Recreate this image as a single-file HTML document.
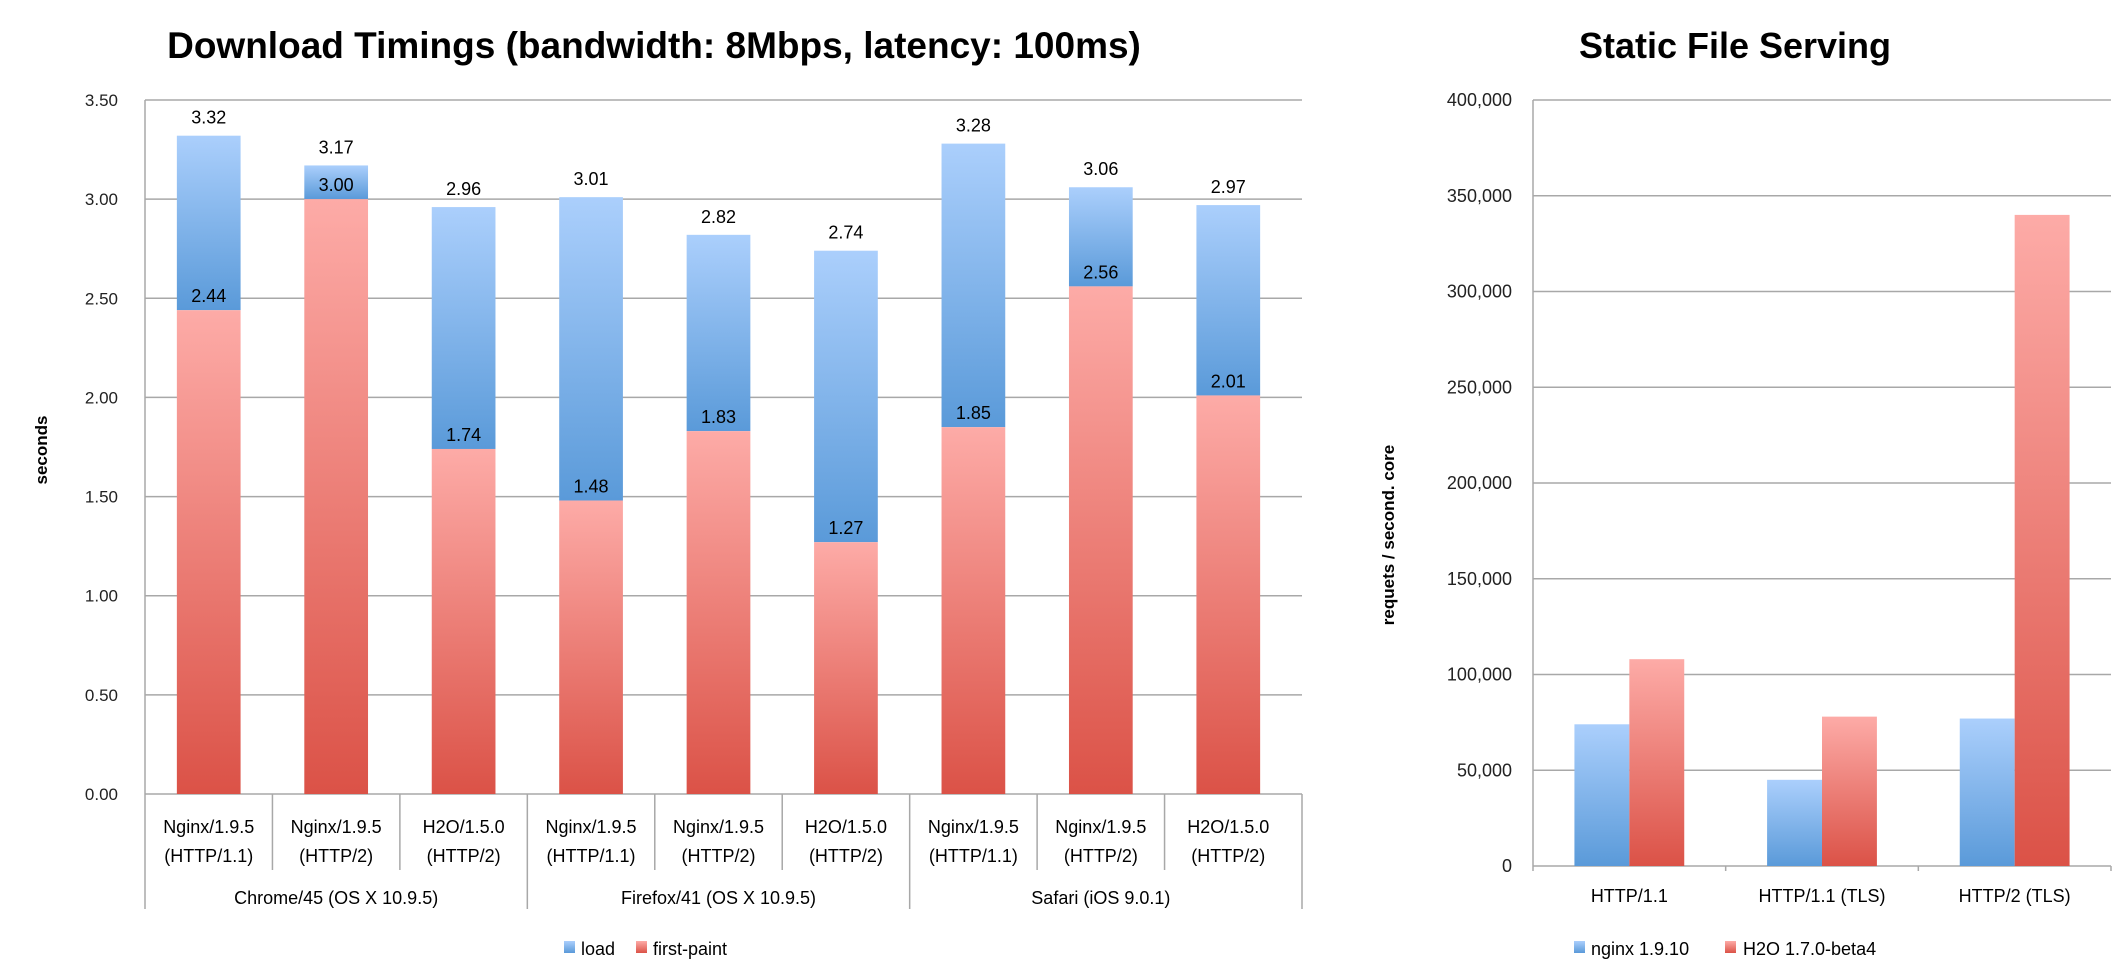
<!DOCTYPE html>
<html><head><meta charset="utf-8"><style>
html,body{margin:0;padding:0;background:#fff;}
svg{display:block;font-family:"Liberation Sans",sans-serif;}
</style></head><body>
<svg id="svg" width="2122" height="980" viewBox="0 0 2122 980">
<defs>
<linearGradient id="gb" x1="0" y1="0" x2="0" y2="1"><stop offset="0" stop-color="#abcffc"/><stop offset="1" stop-color="#5a9ad9"/></linearGradient>
<linearGradient id="gr" x1="0" y1="0" x2="0" y2="1"><stop offset="0" stop-color="#fdaba7"/><stop offset="1" stop-color="#db5247"/></linearGradient>
</defs>
<text x="654" y="58" text-anchor="middle" font-size="37" font-weight="bold" fill="#000">Download Timings (bandwidth: 8Mbps, latency: 100ms)</text>
<text x="1735" y="58" text-anchor="middle" font-size="36" font-weight="bold" fill="#000">Static File Serving</text>
<g id="left"></g>
<g id="right"></g>
</svg>
<script>
const leftCats1=["Nginx/1.9.5","Nginx/1.9.5","H2O/1.5.0","Nginx/1.9.5","Nginx/1.9.5","H2O/1.5.0","Nginx/1.9.5","Nginx/1.9.5","H2O/1.5.0"];
const leftCats2=["(HTTP/1.1)","(HTTP/2)","(HTTP/2)","(HTTP/1.1)","(HTTP/2)","(HTTP/2)","(HTTP/1.1)","(HTTP/2)","(HTTP/2)"];
const leftGroups=["Chrome/45 (OS X 10.9.5)","Firefox/41 (OS X 10.9.5)","Safari (iOS 9.0.1)"];
const loadVals=[3.32,3.17,2.96,3.01,2.82,2.74,3.28,3.06,2.97];
const paintVals=[2.44,3.00,1.74,1.48,1.83,1.27,1.85,2.56,2.01];
const leftTicks=[0,0.5,1,1.5,2,2.5,3,3.5];
const rightCats=["HTTP/1.1","HTTP/1.1 (TLS)","HTTP/2 (TLS)"];
const nginxVals=[74000,45000,77000];
const h2oVals=[108000,78000,340000];
const rightTicks=[0,50000,100000,150000,200000,250000,300000,350000,400000];

const NS="http://www.w3.org/2000/svg";
function mk(parent,tag,attrs,text){const e=document.createElementNS(NS,tag);for(const k in attrs)e.setAttribute(k,attrs[k]);if(text!==undefined)e.textContent=text;parent.appendChild(e);return e;}

// LEFT
const L=document.getElementById('left');
const lx0=145,lx1=1292,ly0=794,ly1=100,lmax=3.5;
const ly=v=>ly0-(v/lmax)*(ly0-ly1);
const lcw=(lx1-lx0)/loadVals.length;
leftTicks.forEach(t=>{
  const g=mk(L,'line',{x1:lx0,x2:lx1+10,y1:ly(t),y2:ly(t),stroke:'#a8a8a8','stroke-width':1.5});
  
  
  const tl=mk(L,'text',{x:118,y:ly(t)+6,'text-anchor':'end','font-size':17,fill:'#222'},t.toFixed(2));
  
  
});
mk(L,'line',{x1:lx0,x2:lx0,y1:ly1,y2:909,stroke:'#a8a8a8','stroke-width':1.5});
const yt=mk(L,'text',{x:0,y:0,transform:'translate(47 450) rotate(-90)','text-anchor':'middle','font-size':17,'font-weight':'bold'},'seconds');


loadVals.forEach((v,i)=>{
  const cx=lx0+lcw*(i+0.5),bw=lcw*0.5;
  const b=mk(L,'rect',{x:cx-bw/2,y:ly(v),width:bw,height:ly(paintVals[i])-ly(v),fill:'url(#gb)'});
  
  
  const r=mk(L,'rect',{x:cx-bw/2,y:ly(paintVals[i]),width:bw,height:ly0-ly(paintVals[i]),fill:'url(#gr)'});
  
  
  const t1=mk(L,'text',{x:cx,y:ly(v)-12,'text-anchor':'middle','font-size':18},v.toFixed(2));
  
  
  const t2=mk(L,'text',{x:cx,y:ly(paintVals[i])-8,'text-anchor':'middle','font-size':18},paintVals[i].toFixed(2));
  
  
  const c1=mk(L,'text',{x:cx,y:833,'text-anchor':'middle','font-size':18},leftCats1[i]);
  
  
  const c2=mk(L,'text',{x:cx,y:862,'text-anchor':'middle','font-size':18},leftCats2[i]);
  
  
  if(i>0){mk(L,'line',{x1:lx0+lcw*i,x2:lx0+lcw*i,y1:ly0,y2:(i%3===0)?909:870,stroke:'#a8a8a8','stroke-width':1.5});}
});
mk(L,'line',{x1:lx1+10,x2:lx1+10,y1:ly0,y2:909,stroke:'#a8a8a8','stroke-width':1.5});
leftGroups.forEach((g,i)=>{
  const t=mk(L,'text',{x:lx0+lcw*(3*i+1.5),y:904,'text-anchor':'middle','font-size':18},g);
  
  
});
mk(L,'rect',{x:564,y:941,width:11,height:12,fill:'url(#gb)'});
const lg1=mk(L,'text',{x:581,y:955,'font-size':18},'load');


mk(L,'rect',{x:636,y:941,width:11,height:12,fill:'url(#gr)'});
const lg2=mk(L,'text',{x:653,y:955,'font-size':18},'first-paint');



// RIGHT
const R=document.getElementById('right');
const rx0=1533,rx1=2111,ry0=866,ry1=100,rmax=400000;
const ry=v=>ry0-(v/rmax)*(ry0-ry1);
const rcw=(rx1-rx0)/rightCats.length;
rightTicks.forEach(t=>{
  const g=mk(R,'line',{x1:rx0,x2:rx1,y1:ry(t),y2:ry(t),stroke:'#a8a8a8','stroke-width':1.5});
  
  
  const tl=mk(R,'text',{x:1512,y:ry(t)+6,'text-anchor':'end','font-size':18,fill:'#222'},t.toLocaleString('en-US'));
  
  
});
mk(R,'line',{x1:rx0,x2:rx0,y1:ry1,y2:ry0+5,stroke:'#a8a8a8','stroke-width':1.5});
for(let i=1;i<=3;i++)mk(R,'line',{x1:rx0+rcw*i,x2:rx0+rcw*i,y1:ry0,y2:ry0+5,stroke:'#a8a8a8','stroke-width':1.5});
const ryt=mk(R,'text',{x:0,y:0,transform:'translate(1394 535) rotate(-90)','text-anchor':'middle','font-size':17,'font-weight':'bold'},'requets / second. core');


rightCats.forEach((c,i)=>{
  const cx=rx0+rcw*(i+0.5),bw=rcw*0.285;
  const b1=mk(R,'rect',{x:cx-bw,y:ry(nginxVals[i]),width:bw,height:ry0-ry(nginxVals[i]),fill:'url(#gb)'});
  
  
  const b2=mk(R,'rect',{x:cx,y:ry(h2oVals[i]),width:bw,height:ry0-ry(h2oVals[i]),fill:'url(#gr)'});
  
  
  const t=mk(R,'text',{x:cx,y:902,'text-anchor':'middle','font-size':18},c);
  
  
});
mk(R,'rect',{x:1574,y:941,width:11,height:12,fill:'url(#gb)'});
const rg1=mk(R,'text',{x:1591,y:955,'font-size':18},'nginx 1.9.10');


mk(R,'rect',{x:1725,y:941,width:11,height:12,fill:'url(#gr)'});
const rg2=mk(R,'text',{x:1743,y:955,'font-size':18},'H2O 1.7.0-beta4');


</script>
</body></html>
